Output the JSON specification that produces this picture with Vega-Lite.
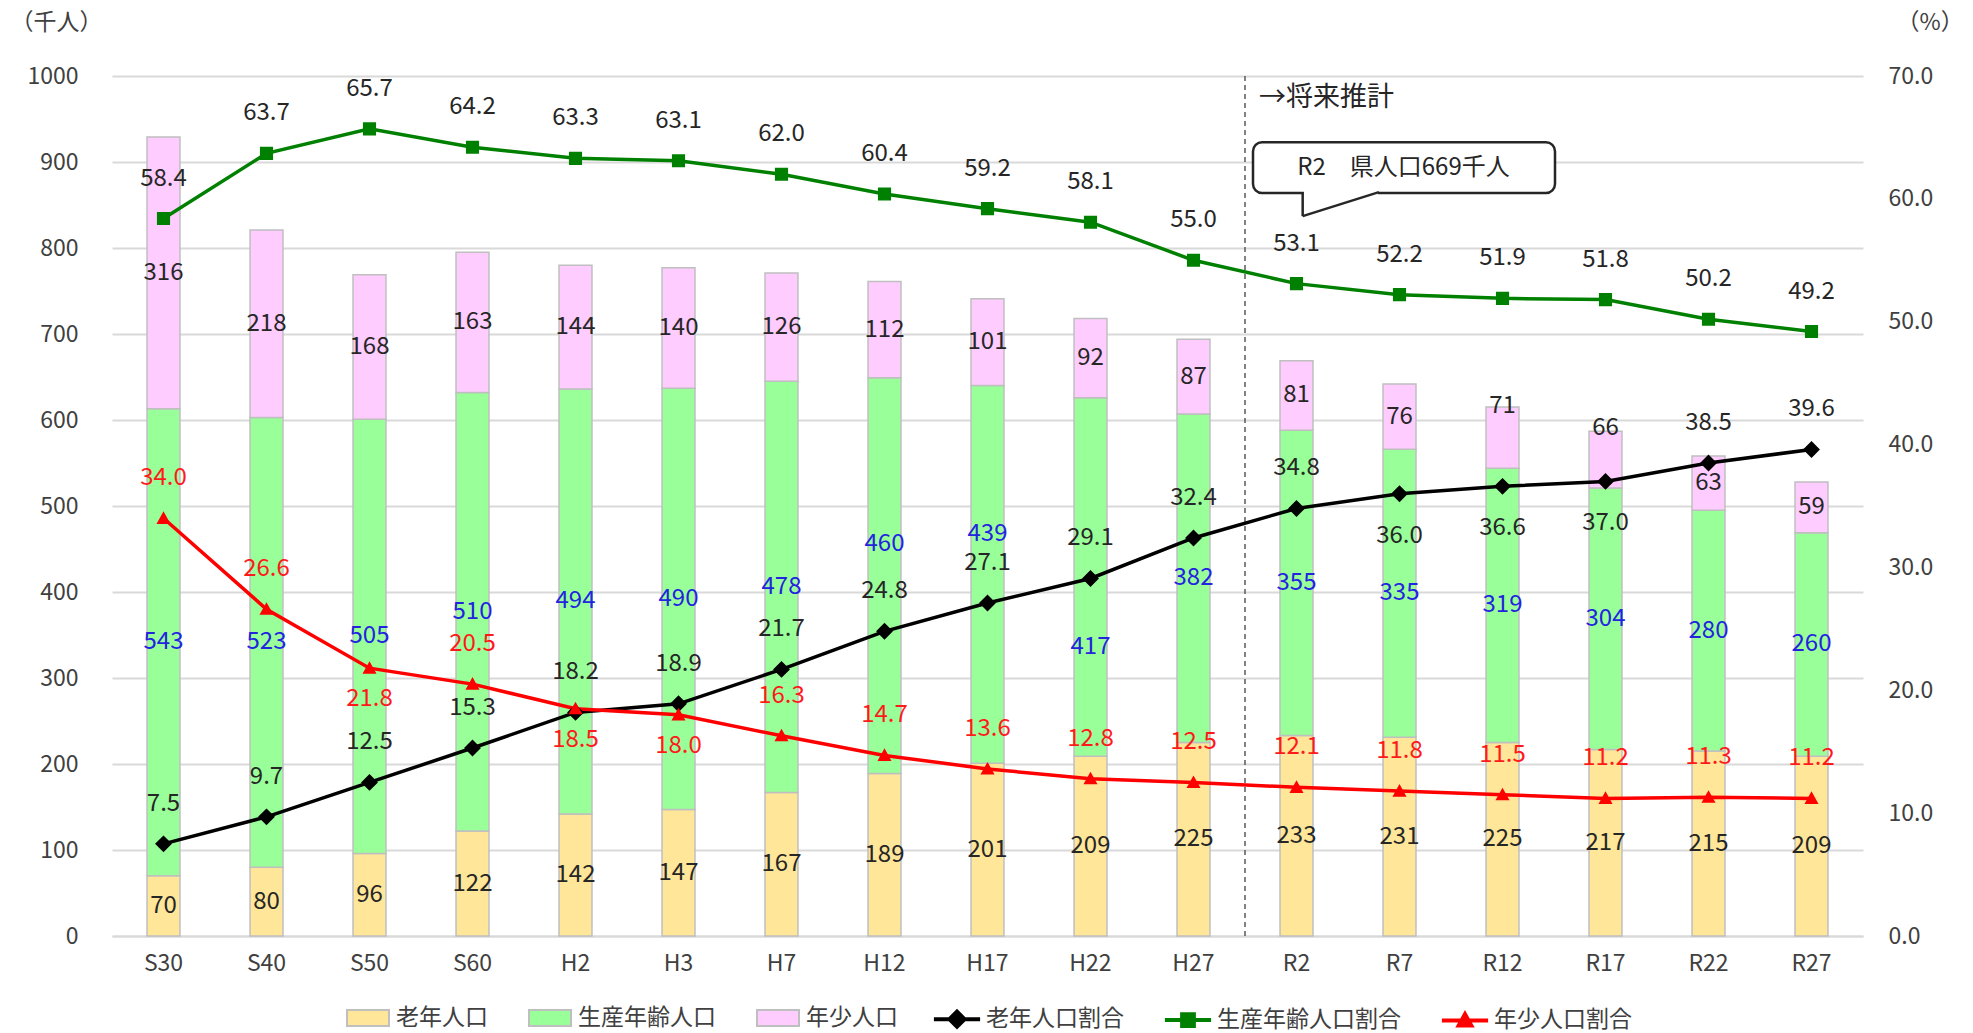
{
  "$schema": "https://vega.github.io/schema/vega-lite/v6.json",
  "width": 1751,
  "height": 860,
  "autosize": "none",
  "padding": {"left": 112, "top": 76, "right": 110, "bottom": 97},
  "background": "white",
  "config": {
    "font": "Noto Sans CJK JP",
    "view": {"stroke": null},
    "text": {"font": "Noto Sans CJK JP"}
  },
  "datasets": {
    "pop": [
      {"year": "S30", "老年人口": 70, "生産年齢人口": 543, "年少人口": 316, "老年人口割合": 7.5, "生産年齢人口割合": 58.4, "年少人口割合": 34.0},
      {"year": "S40", "老年人口": 80, "生産年齢人口": 523, "年少人口": 218, "老年人口割合": 9.7, "生産年齢人口割合": 63.7, "年少人口割合": 26.6},
      {"year": "S50", "老年人口": 96, "生産年齢人口": 505, "年少人口": 168, "老年人口割合": 12.5, "生産年齢人口割合": 65.7, "年少人口割合": 21.8},
      {"year": "S60", "老年人口": 122, "生産年齢人口": 510, "年少人口": 163, "老年人口割合": 15.3, "生産年齢人口割合": 64.2, "年少人口割合": 20.5},
      {"year": "H2", "老年人口": 142, "生産年齢人口": 494, "年少人口": 144, "老年人口割合": 18.2, "生産年齢人口割合": 63.3, "年少人口割合": 18.5},
      {"year": "H3", "老年人口": 147, "生産年齢人口": 490, "年少人口": 140, "老年人口割合": 18.9, "生産年齢人口割合": 63.1, "年少人口割合": 18.0},
      {"year": "H7", "老年人口": 167, "生産年齢人口": 478, "年少人口": 126, "老年人口割合": 21.7, "生産年齢人口割合": 62.0, "年少人口割合": 16.3},
      {"year": "H12", "老年人口": 189, "生産年齢人口": 460, "年少人口": 112, "老年人口割合": 24.8, "生産年齢人口割合": 60.4, "年少人口割合": 14.7},
      {"year": "H17", "老年人口": 201, "生産年齢人口": 439, "年少人口": 101, "老年人口割合": 27.1, "生産年齢人口割合": 59.2, "年少人口割合": 13.6},
      {"year": "H22", "老年人口": 209, "生産年齢人口": 417, "年少人口": 92, "老年人口割合": 29.1, "生産年齢人口割合": 58.1, "年少人口割合": 12.8},
      {"year": "H27", "老年人口": 225, "生産年齢人口": 382, "年少人口": 87, "老年人口割合": 32.4, "生産年齢人口割合": 55.0, "年少人口割合": 12.5},
      {"year": "R2", "老年人口": 233, "生産年齢人口": 355, "年少人口": 81, "老年人口割合": 34.8, "生産年齢人口割合": 53.1, "年少人口割合": 12.1},
      {"year": "R7", "老年人口": 231, "生産年齢人口": 335, "年少人口": 76, "老年人口割合": 36.0, "生産年齢人口割合": 52.2, "年少人口割合": 11.8},
      {"year": "R12", "老年人口": 225, "生産年齢人口": 319, "年少人口": 71, "老年人口割合": 36.6, "生産年齢人口割合": 51.9, "年少人口割合": 11.5},
      {"year": "R17", "老年人口": 217, "生産年齢人口": 304, "年少人口": 66, "老年人口割合": 37.0, "生産年齢人口割合": 51.8, "年少人口割合": 11.2},
      {"year": "R22", "老年人口": 215, "生産年齢人口": 280, "年少人口": 63, "老年人口割合": 38.5, "生産年齢人口割合": 50.2, "年少人口割合": 11.3},
      {"year": "R27", "老年人口": 209, "生産年齢人口": 260, "年少人口": 59, "老年人口割合": 39.6, "生産年齢人口割合": 49.2, "年少人口割合": 11.2}
    ],
    "note": [
      {"year": "R2", "mid": "R7", "end": "R17", "future": "→将来推計", "callout": "R2　県人口669千人"}
    ]
  },
  "layer": [
    {
      "layer": [
        {
          "data": {"name": "pop"},
          "transform": [{"fold": ["老年人口", "生産年齢人口", "年少人口"], "as": ["series", "value"]}],
          "mark": {"type": "bar", "width": {"band": 0.32}, "stroke": "#BFBFBF", "strokeWidth": 1.5},
          "encoding": {
            "x": {
              "field": "year", "type": "nominal", "title": null,
              "scale": {"type": "band", "domain": ["S30","S40","S50","S60","H2","H3","H7","H12","H17","H22","H27","R2","R7","R12","R17","R22","R27"], "paddingInner": 0, "paddingOuter": 0},
              "axis": {"labelFontSize": 23, "labelColor": "#404040", "labelAngle": 0, "labelPadding": 16, "ticks": false, "domainColor": "#D9D9D9", "domainWidth": 2, "grid": false}
            },
            "y": {
              "field": "value", "type": "quantitative", "stack": "zero",
              "scale": {"domain": [0, 1000], "nice": false},
              "axis": {"title": "（千人）", "titleAngle": 0, "titleAlign": "left", "titleBaseline": "middle", "titleX": -102, "titleY": -54, "titleFontSize": 23, "titleFontWeight": "normal", "titleColor": "#404040", "values": [0,100,200,300,400,500,600,700,800,900,1000], "format": "d", "labelFontSize": 23, "labelColor": "#404040", "labelPadding": 34, "ticks": false, "domain": false, "grid": true, "gridColor": "#D9D9D9", "gridWidth": 2}
            },
            "fill": {
              "field": "series", "type": "nominal",
              "scale": {"domain": ["老年人口", "生産年齢人口", "年少人口"], "range": ["#FFE699", "#99FF99", "#FFCCFF"]},
              "legend": {
                "orient": "none", "legendX": 234, "legendY": 920, "direction": "horizontal", "title": null,
                "labelFontSize": 23, "labelColor": "#404040", "labelLimit": 400, "columnPadding": 37, "labelOffset": 6, "padding": 0,
                "symbolType": "M-1,-0.38H1V0.38H-1Z", "symbolSize": 1764, "symbolStrokeColor": "#BFBFBF", "symbolStrokeWidth": 2, "symbolOpacity": 1
              }
            },
            "order": {"field": "series", "sort": "descending"}
          }
        },
        {
          "data": {"name": "pop"},
          "transform": [{"fold": ["老年人口", "生産年齢人口", "年少人口"], "as": ["series", "value"]}],
          "mark": {"type": "text", "fontSize": 24, "baseline": "middle", "align": "center"},
          "encoding": {
            "x": {"field": "year", "type": "nominal"},
            "y": {"field": "value", "type": "quantitative", "stack": "zero", "bandPosition": 0.5},
            "detail": {"field": "series", "type": "nominal"},
            "order": {"field": "series", "sort": "descending"},
            "text": {"condition": {"test": "!((datum.series === '生産年齢人口' && indexof(['H12','H17','H22'], datum.year) >= 0) || (datum.series === '年少人口' && indexof(['R12','R17'], datum.year) >= 0))", "field": "value", "type": "quantitative"}, "value": ""},
            "color": {"condition": {"test": "datum.series === '生産年齢人口'", "value": "#2323E0"}, "value": "#262626"}
          }
        },
        {
          "data": {"name": "pop"},
          "transform": [{"fold": ["老年人口", "生産年齢人口", "年少人口"], "as": ["series", "value"]}],
          "mark": {"type": "text", "fontSize": 24, "baseline": "middle", "align": "center", "dy": -32},
          "encoding": {
            "x": {"field": "year", "type": "nominal"},
            "y": {"field": "value", "type": "quantitative", "stack": "zero", "bandPosition": 0.5},
            "detail": {"field": "series", "type": "nominal"},
            "order": {"field": "series", "sort": "descending"},
            "text": {"condition": {"test": "(datum.series === '生産年齢人口' && datum.year === 'H12') || (datum.series === '年少人口' && indexof(['R12','R17'], datum.year) >= 0)", "field": "value", "type": "quantitative"}, "value": ""},
            "color": {"condition": {"test": "datum.series === '生産年齢人口'", "value": "#2323E0"}, "value": "#262626"}
          }
        },
        {
          "data": {"name": "pop"},
          "transform": [{"fold": ["老年人口", "生産年齢人口", "年少人口"], "as": ["series", "value"]}],
          "mark": {"type": "text", "fontSize": 24, "baseline": "middle", "align": "center", "dy": -40},
          "encoding": {
            "x": {"field": "year", "type": "nominal"},
            "y": {"field": "value", "type": "quantitative", "stack": "zero", "bandPosition": 0.5},
            "detail": {"field": "series", "type": "nominal"},
            "order": {"field": "series", "sort": "descending"},
            "text": {"condition": {"test": "datum.series === '生産年齢人口' && datum.year === 'H17'", "field": "value", "type": "quantitative"}, "value": ""},
            "color": {"value": "#2323E0"}
          }
        },
        {
          "data": {"name": "pop"},
          "transform": [{"fold": ["老年人口", "生産年齢人口", "年少人口"], "as": ["series", "value"]}],
          "mark": {"type": "text", "fontSize": 24, "baseline": "middle", "align": "center", "dy": 70},
          "encoding": {
            "x": {"field": "year", "type": "nominal"},
            "y": {"field": "value", "type": "quantitative", "stack": "zero", "bandPosition": 0.5},
            "detail": {"field": "series", "type": "nominal"},
            "order": {"field": "series", "sort": "descending"},
            "text": {"condition": {"test": "datum.series === '生産年齢人口' && datum.year === 'H22'", "field": "value", "type": "quantitative"}, "value": ""},
            "color": {"value": "#2323E0"}
          }
        },
        {
          "data": {"name": "note"},
          "mark": {"type": "rule", "stroke": "#595959", "strokeWidth": 1.5, "strokeDash": [5, 4]},
          "encoding": {
            "x": {"field": "year", "type": "nominal", "bandPosition": 0}
          }
        },
        {
          "data": {"name": "note"},
          "mark": {"type": "text", "fontSize": 27, "align": "left", "baseline": "middle", "dx": 14, "color": "#262626"},
          "encoding": {
            "x": {"field": "year", "type": "nominal", "bandPosition": 0},
            "y": {"datum": 974, "type": "quantitative"},
            "text": {"field": "future"}
          }
        },
        {
          "data": {"name": "note"},
          "mark": {"type": "rect", "fill": "white", "stroke": "#262626", "strokeWidth": 2.5, "cornerRadius": 9, "xOffset": 8, "x2Offset": 1},
          "encoding": {
            "x": {"field": "year", "type": "nominal", "bandPosition": 0},
            "x2": {"field": "end", "bandPosition": 0},
            "y": {"datum": 923, "type": "quantitative"},
            "y2": {"datum": 864}
          }
        },
        {
          "data": {"name": "note"},
          "mark": {"type": "rule", "stroke": "white", "strokeWidth": 4},
          "encoding": {
            "x": {"field": "year", "type": "nominal", "bandPosition": 0.57},
            "x2": {"field": "mid", "bandPosition": 0.29},
            "y": {"datum": 864, "type": "quantitative"}
          }
        },
        {
          "data": {"name": "note"},
          "mark": {"type": "rule", "stroke": "#262626", "strokeWidth": 2.5},
          "encoding": {
            "x": {"field": "year", "type": "nominal", "bandPosition": 0.56},
            "y": {"datum": 865, "type": "quantitative"},
            "y2": {"datum": 837}
          }
        },
        {
          "data": {"name": "note"},
          "mark": {"type": "rule", "stroke": "#262626", "strokeWidth": 2.5},
          "encoding": {
            "x": {"field": "mid", "type": "nominal", "bandPosition": 0.3},
            "x2": {"field": "year", "bandPosition": 0.56},
            "y": {"datum": 865, "type": "quantitative"},
            "y2": {"datum": 837}
          }
        },
        {
          "data": {"name": "note"},
          "mark": {"type": "text", "fontSize": 24, "align": "center", "baseline": "middle", "dx": 4, "color": "#262626"},
          "encoding": {
            "x": {"field": "mid", "type": "nominal", "bandPosition": 0.5},
            "y": {"datum": 893, "type": "quantitative"},
            "text": {"field": "callout"}
          }
        }
      ]
    },
    {
      "layer": [
        {
          "data": {"name": "pop"},
          "transform": [{"fold": ["老年人口割合", "生産年齢人口割合", "年少人口割合"], "as": ["series", "rate"]}],
          "mark": {"type": "line", "strokeWidth": 3.5},
          "encoding": {
            "x": {"field": "year", "type": "nominal", "sort": null},
            "y": {
              "field": "rate", "type": "quantitative",
              "scale": {"domain": [0, 70], "nice": false},
              "axis": {"orient": "right", "title": "（%）", "titleAngle": 0, "titleAlign": "left", "titleBaseline": "middle", "titleX": 33, "titleY": -54, "titleFontSize": 23, "titleFontWeight": "normal", "titleColor": "#404040", "values": [0,10,20,30,40,50,60,70], "format": ".1f", "labelFontSize": 23, "labelColor": "#404040", "labelPadding": 25, "ticks": false, "domain": false, "grid": false}
            },
            "stroke": {
              "field": "series", "type": "nominal",
              "scale": {"domain": ["老年人口割合", "生産年齢人口割合", "年少人口割合"], "range": ["#000000", "#008000", "#FF0000"]},
              "legend": {"orient": "none", "legendX": 822, "legendY": 920, "direction": "horizontal", "title": null, "labelFontSize": 23, "labelColor": "#404040", "labelLimit": 400, "columnPadding": 32, "labelOffset": 6, "padding": 0, "symbolSize": 1764, "symbolStrokeWidth": 4, "symbolOpacity": 1}
            }
          }
        },
        {
          "data": {"name": "pop"},
          "transform": [{"fold": ["老年人口割合", "生産年齢人口割合", "年少人口割合"], "as": ["series", "rate"]}],
          "mark": {"type": "point", "filled": true, "opacity": 1, "size": 2200},
          "encoding": {
            "x": {"field": "year", "type": "nominal"},
            "y": {"field": "rate", "type": "quantitative"},
            "color": {
              "field": "series", "type": "nominal",
              "scale": {"domain": ["老年人口割合", "生産年齢人口割合", "年少人口割合"], "range": ["#000000", "#008000", "#FF0000"]},
              "legend": {"orient": "none", "legendX": 822, "legendY": 920, "direction": "horizontal", "title": null, "labelFontSize": 23, "labelColor": "#404040", "labelLimit": 400, "columnPadding": 32, "labelOffset": 6, "padding": 0, "symbolSize": 1764, "symbolStrokeWidth": 4, "symbolOpacity": 1}
            },
            "shape": {
              "field": "series", "type": "nominal",
              "scale": {"domain": ["老年人口割合", "生産年齢人口割合", "年少人口割合"], "range": ["M-1.1,0H1.1M-0.36,0L0,-0.36L0.36,0L0,0.36Z", "M-1.1,0H1.1M-0.28,-0.28H0.28V0.28H-0.28Z", "M-1.1,0H1.1M-0.3,0.24L0,-0.3L0.3,0.24Z"]},
              "legend": {"orient": "none", "legendX": 822, "legendY": 920, "direction": "horizontal", "title": null, "labelFontSize": 23, "labelColor": "#404040", "labelLimit": 400, "columnPadding": 32, "labelOffset": 6, "padding": 0, "symbolSize": 1764, "symbolStrokeWidth": 4, "symbolOpacity": 1}
            }
          }
        },
        {
          "data": {"name": "pop"},
          "transform": [
            {"fold": ["老年人口割合", "生産年齢人口割合", "年少人口割合"], "as": ["series", "rate"]},
            {"filter": "!((datum.series == '年少人口割合' && indexof(['S50','H2','H3'], datum.year) >= 0) || (datum.series == '老年人口割合' && indexof(['R7','R12','R17'], datum.year) >= 0))"}
          ],
          "mark": {"type": "text", "fontSize": 24, "baseline": "middle", "align": "center", "dy": -40},
          "encoding": {
            "x": {"field": "year", "type": "nominal"},
            "y": {"field": "rate", "type": "quantitative"},
            "text": {"field": "rate", "type": "quantitative", "format": ".1f"},
            "fill": {"condition": {"test": "datum.series === '年少人口割合'", "value": "#FF1A1A"}, "value": "#262626"}
          }
        },
        {
          "data": {"name": "pop"},
          "transform": [
            {"fold": ["年少人口割合"], "as": ["series", "rate"]},
            {"filter": "indexof(['S50','H2','H3'], datum.year) >= 0"}
          ],
          "mark": {"type": "text", "fontSize": 24, "baseline": "middle", "align": "center", "dy": 31, "fill": "#FF1A1A"},
          "encoding": {
            "x": {"field": "year", "type": "nominal"},
            "y": {"field": "rate", "type": "quantitative"},
            "text": {"field": "rate", "type": "quantitative", "format": ".1f"}
          }
        },
        {
          "data": {"name": "pop"},
          "transform": [
            {"fold": ["老年人口割合"], "as": ["series", "rate"]},
            {"filter": "indexof(['R7','R12','R17'], datum.year) >= 0"}
          ],
          "mark": {"type": "text", "fontSize": 24, "baseline": "middle", "align": "center", "dy": 42, "fill": "#262626"},
          "encoding": {
            "x": {"field": "year", "type": "nominal"},
            "y": {"field": "rate", "type": "quantitative"},
            "text": {"field": "rate", "type": "quantitative", "format": ".1f"}
          }
        }
      ]
    }
  ],
  "resolve": {"scale": {"y": "independent"}}
}
